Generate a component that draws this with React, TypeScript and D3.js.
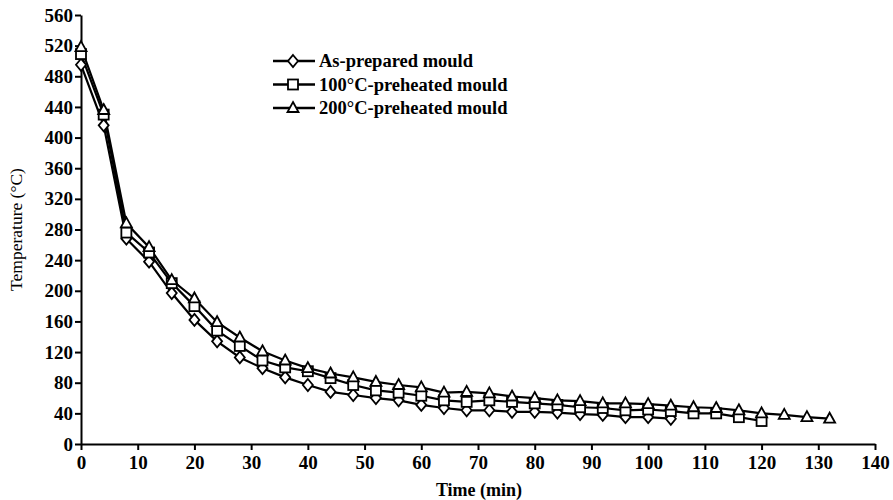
import React, { useRef, useEffect } from "react";
import * as d3 from "d3";

// time (min) for each reading, every 4 min
const times = [
  0, 4, 8, 12, 16, 20, 24, 28, 32, 36, 40, 44, 48, 52, 56, 60, 64, 68, 72, 76,
  80, 84, 88, 92, 96, 100, 104, 108, 112, 116, 120, 124, 128, 132,
];

const asPrepared = [
  495, 416, 268, 238, 197, 162, 134, 113, 99, 87, 77, 68, 64, 60, 57, 51, 47,
  44, 44, 42, 42, 41, 39, 38, 35, 35, 33,
];
const preheated100 = [
  509, 430, 276, 250, 210, 180, 148, 128, 109, 100, 95, 86, 77, 70, 67, 63,
  57, 55, 57, 55, 53, 51, 48, 47, 44, 45, 43, 40, 40, 35, 30,
];
const preheated200 = [
  518, 436, 288, 257, 214, 190, 159, 139, 121, 109, 99, 92, 87, 81, 77, 74, 67,
  68, 66, 62, 60, 57, 56, 53, 53, 52, 50, 48, 47, 44, 40, 38, 35, 33,
];

const seriesNames = [
  "As-prepared mould",
  "100°C-preheated mould",
  "200°C-preheated mould",
];
const seriesValues = [asPrepared, preheated100, preheated200];
const markers = ["diamond", "square", "triangle"];

const xTicks = d3.range(0, 141, 10);
const yTicks = d3.range(0, 561, 40);

const W = 893;
const H = 500;
const margin = { top: 15, right: 18, bottom: 56, left: 81 };

const font = "'Liberation Serif', 'Times New Roman', serif";

const drawMarker = (g, type, x, y) => {
  if (type === "diamond") {
    g.append("path")
      .attr("d", `M${x},${y - 6}L${x + 5},${y}L${x},${y + 6}L${x - 5},${y}Z`)
      .attr("fill", "#fff")
      .attr("stroke", "#000")
      .attr("stroke-width", 1.8);
  } else if (type === "square") {
    g.append("rect")
      .attr("x", x - 5)
      .attr("y", y - 5)
      .attr("width", 10)
      .attr("height", 10)
      .attr("fill", "#fff")
      .attr("stroke", "#000")
      .attr("stroke-width", 1.8);
  } else {
    g.append("path")
      .attr("d", `M${x},${y - 6}L${x + 5.5},${y + 4}L${x - 5.5},${y + 4}Z`)
      .attr("fill", "#fff")
      .attr("stroke", "#000")
      .attr("stroke-width", 1.8);
  }
};

const App = () => {
  const svgRef = useRef(null);

  useEffect(() => {
    const svg = d3.select(svgRef.current);
    svg.selectAll("*").remove();

    const xScale = d3
      .scaleLinear()
      .domain([0, 140])
      .range([margin.left, W - margin.right]);
    const yScale = d3
      .scaleLinear()
      .domain([0, 560])
      .range([H - margin.bottom, margin.top]);

    // axes
    const xAxis = svg
      .append("g")
      .attr("transform", `translate(0,${H - margin.bottom})`)
      .call(d3.axisBottom(xScale).tickValues(xTicks).tickSize(6).tickSizeOuter(0));
    const yAxis = svg
      .append("g")
      .attr("transform", `translate(${margin.left},0)`)
      .call(d3.axisLeft(yScale).tickValues(yTicks).tickSize(6).tickSizeOuter(0));

    [xAxis, yAxis].forEach((ax) => {
      ax.select(".domain").attr("stroke", "#000").attr("stroke-width", 2);
      ax.selectAll(".tick line").attr("stroke", "#000").attr("stroke-width", 2);
      ax.selectAll(".tick text")
        .attr("fill", "#000")
        .style("font-family", font)
        .style("font-size", "19px")
        .style("font-weight", "bold");
    });
    xAxis.selectAll(".tick text").attr("dy", "0.85em");
    yAxis.selectAll(".tick text").attr("x", -8);

    // axis titles
    svg.append("text")
      .attr("x", (margin.left + W - margin.right) / 2 + 1)
      .attr("y", H - 4)
      .attr("text-anchor", "middle")
      .style("font-family", font)
      .style("font-size", "18px")
      .style("font-weight", "bold")
      .text("Time (min)");
    svg.append("text")
      .attr("transform", `translate(22,${(margin.top + H - margin.bottom) / 2}) rotate(-90)`)
      .attr("text-anchor", "middle")
      .style("font-family", font)
      .style("font-size", "17.5px")
      .text("Temperature (°C)");

    const line = d3
      .line()
      .x((d) => xScale(d[0]))
      .y((d) => yScale(d[1]));

    // draw lines first, then markers on top
    seriesValues.forEach((vals) => {
      const pts = vals.map((v, i) => [times[i], v]);
      svg.append("path")
        .attr("d", line(pts))
        .attr("fill", "none")
        .attr("stroke", "#000")
        .attr("stroke-width", 2.2);
    });
    seriesValues.forEach((vals, s) => {
      const g = svg.append("g");
      vals.forEach((v, i) => drawMarker(g, markers[s], xScale(times[i]), yScale(v)));
    });

    // legend
    const legend = svg.append("g").attr("transform", "translate(273,61)");
    seriesNames.forEach((name, i) => {
      const row = legend.append("g").attr("transform", `translate(0,${i * 23.5})`);
      row.append("line")
        .attr("x1", 0)
        .attr("x2", 42)
        .attr("y1", 0)
        .attr("y2", 0)
        .attr("stroke", "#000")
        .attr("stroke-width", 2.5);
      drawMarker(row, markers[i], 20, 0);
      row.append("text")
        .attr("x", 46)
        .attr("y", 0)
        .attr("dy", "0.35em")
        .style("font-family", font)
        .style("font-size", "18.5px")
        .style("font-weight", "bold")
        .text(name);
    });
  }, []);

  return (
    <svg
      ref={svgRef}
      width={W}
      height={H}
      style={{ position: "absolute", left: 0, top: 0, background: "#fff" }}
    />
  );
};

export default App;
